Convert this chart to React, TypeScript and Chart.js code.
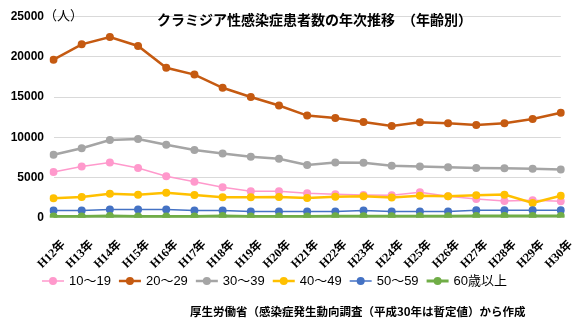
import React, { useEffect, useRef } from "react";
import { Chart, registerables } from "chart.js";

Chart.register(...registerables);

const categories = ["H12年","H13年","H14年","H15年","H16年","H17年","H18年","H19年","H20年","H21年","H22年","H23年","H24年","H25年","H26年","H27年","H28年","H29年","H30年"];
const seriesNames = ["10～19","20～29","30～39","40～49","50～59","60歳以上"];
const age10 = [5690,6380,6870,6180,5150,4470,3800,3280,3280,3030,2910,2830,2790,3150,2660,2340,2090,2170,2050];
const age20 = [19650,21560,22460,21360,18650,17800,16160,15020,13950,12700,12400,11900,11400,11870,11750,11540,11750,12270,13060];
const age30 = [7820,8640,9660,9780,9080,8430,7980,7570,7330,6550,6870,6840,6470,6380,6260,6180,6140,6100,5980];
const age40 = [2420,2580,2990,2870,3110,2830,2540,2540,2560,2460,2620,2660,2500,2740,2660,2790,2870,1840,2740];
const age50 = [900,900,1030,1030,1030,900,900,780,780,780,780,900,780,780,780,940,940,940,940];
const age60 = [150,150,200,150,150,150,200,150,150,150,180,180,180,180,180,200,200,200,200];
const yTicks = [0,5000,10000,15000,20000,25000];
const titleText = "クラミジア性感染症患者数の年次推移　（年齢別）";
const unitText = "（人）";
const sourceText = "厚生労働省（感染症発生動向調査（平成30年は暫定値）から作成";

const colors = ["#FF99CC","#C55A11","#A5A5A5","#FFC000","#4472C4","#70AD47"];
const widths = [1.5,2.5,2.5,2.5,1.5,3];

const overlay = {
  id: "overlay",
  afterDraw(chart: any) {
    const ctx = chart.ctx;
    ctx.save();
    ctx.fillStyle = "#000";
    ctx.textBaseline = "middle";
    ctx.textAlign = "left";
    ctx.font = "bold 14px 'Noto Sans CJK JP'";
    ctx.fillText(titleText, 157, 20);
    ctx.font = "13px 'Noto Sans CJK JP'";
    ctx.fillText(unitText, 44, 15);
    ctx.font = "bold 11.5px 'Noto Sans CJK JP'";
    ctx.fillText(sourceText, 190, 312);
    // legend
    let x = 42;
    const y = 281;
    ctx.font = "13px 'Liberation Sans','Noto Sans CJK JP'";
    chart.data.datasets.forEach((ds: any) => {
      ctx.strokeStyle = ds.borderColor;
      ctx.lineWidth = ds.borderWidth;
      ctx.beginPath();
      ctx.moveTo(x, y);
      ctx.lineTo(x + 22, y);
      ctx.stroke();
      ctx.fillStyle = ds.backgroundColor;
      ctx.beginPath();
      ctx.arc(x + 11, y, 4, 0, Math.PI * 2);
      ctx.fill();
      ctx.fillStyle = "#000";
      const tx = x + 27;
      ctx.fillText(ds.label, tx, y);
      x = tx + ctx.measureText(ds.label).width + 8;
    });
    ctx.restore();
  },
};

export default function App() {
  const ref = useRef<HTMLCanvasElement>(null);
  useEffect(() => {
    const seriesData = [age10, age20, age30, age40, age50, age60];
    const chart = new Chart(ref.current as HTMLCanvasElement, {
      type: "line",
      data: {
        labels: categories,
        datasets: seriesData.map((d, i) => ({
          label: seriesNames[i],
          data: d,
          borderColor: colors[i],
          backgroundColor: colors[i],
          borderWidth: widths[i],
          pointRadius: 4,
          pointBorderWidth: 0,
          pointBackgroundColor: colors[i],
          tension: 0,
          order: 6 - i,
        })),
      },
      options: {
        animation: false,
        responsive: false,
        layout: { padding: { left: 0, right: 16.5, top: 14, bottom: 47.3 } },
        plugins: { legend: { display: false }, tooltip: { enabled: false } },
        scales: {
          x: {
            grid: { display: false },
            border: { display: false },
            afterFit: (s: any) => { s.height = 70; },
            ticks: {
              autoSkip: false,
              minRotation: 45,
              maxRotation: 45,
              padding: 12,
              labelOffset: 10,
              color: "#000",
              font: { family: "'Liberation Serif','Noto Sans CJK JP'", size: 12, weight: "bold" },
            },
          },
          y: {
            min: 0,
            max: 25000,
            afterFit: (s: any) => { s.width = 53.5; },
            afterBuildTicks: (s: any) => { s.ticks = yTicks.map((v) => ({ value: v })); },
            grid: { color: "#D9D9D9", drawTicks: false, lineWidth: 1 },
            border: { display: false },
            ticks: {
              padding: 9.5,
              color: "#000",
              callback: (v: any) => String(v),
              font: { family: "'Liberation Sans'", size: 12, weight: "bold" },
            },
          },
        },
      },
      plugins: [overlay],
    });
    return () => chart.destroy();
  }, []);
  return (
    <div style={{ position: "fixed", left: 0, top: 0, width: 583, height: 335, background: "#fff" }}>
      <canvas ref={ref} width={583} height={335} />
    </div>
  );
}
